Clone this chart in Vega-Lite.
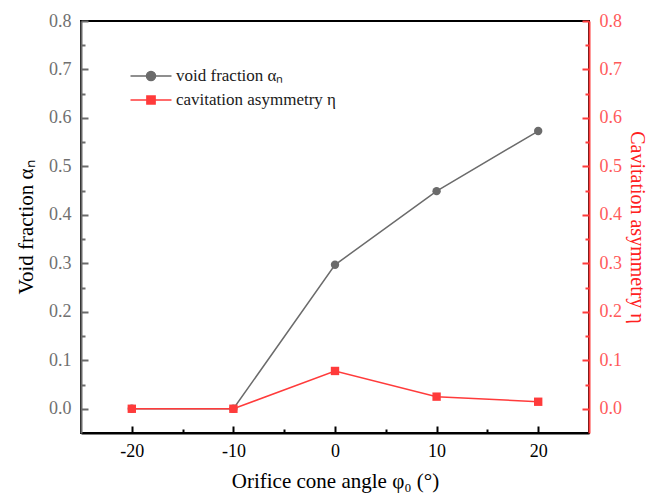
{
  "$schema": "https://vega.github.io/schema/vega-lite/v6.json",
  "width": 508,
  "height": 412,
  "autosize": {"type": "none"},
  "padding": {"left": 81, "top": 21, "right": 59, "bottom": 62},
  "background": "white",
  "config": {
    "font": "Liberation Serif",
    "view": {"stroke": "#000000", "strokeWidth": 2},
    "axis": {"grid": false, "labelFont": "Liberation Serif", "titleFont": "Liberation Serif", "titleFontWeight": "normal", "labelFontSize": 18, "titleFontSize": 21},
    "legend": {"labelFont": "Liberation Serif"}
  },
  "data": {
    "values": [
      {"angle": -20, "series": "alpha", "value": 0.0},
      {"angle": -10, "series": "alpha", "value": 0.0},
      {"angle": 0, "series": "alpha", "value": 0.297},
      {"angle": 10, "series": "alpha", "value": 0.449},
      {"angle": 20, "series": "alpha", "value": 0.573},
      {"angle": -20, "series": "eta", "value": 0.0},
      {"angle": -10, "series": "eta", "value": 0.0},
      {"angle": 0, "series": "eta", "value": 0.078},
      {"angle": 10, "series": "eta", "value": 0.025},
      {"angle": 20, "series": "eta", "value": 0.0145}
    ]
  },
  "encoding": {
    "x": {
      "field": "angle",
      "type": "quantitative",
      "scale": {"domain": [-25, 25], "nice": false, "zero": false},
      "axis": {
        "title": "Orifice cone angle φ₀ (°)",
        "titleColor": "#000000",
        "titlePadding": 10,
        "values": [-20, -15, -10, -5, 0, 5, 10, 15, 20],
        "labelExpr": "datum.value % 10 == 0 ? '' + datum.value : ''",
        "labelColor": "#000000",
        "labelPadding": 16,
        "domainColor": "#000000",
        "domainWidth": 2,
        "tickColor": "#000000",
        "tickWidth": 2,
        "tickSize": {"condition": {"test": "datum.value % 10 == 0", "value": -7}, "value": -4}
      }
    },
    "color": {
      "field": "series",
      "type": "nominal",
      "scale": {"domain": ["alpha", "eta"], "range": ["#6b6b6b", "#ff3b3b"]},
      "legend": {
        "title": null,
        "orient": "none",
        "legendX": 59,
        "legendY": 44,
        "padding": 0,
        "symbolSize": 420,
        "symbolStrokeWidth": 1.5,
        "labelFontSize": 17,
        "labelColor": "#1a1a1a",
        "labelOffset": 14,
        "rowPadding": 5,
        "labelExpr": "datum.value == 'alpha' ? 'void fraction αₙ' : 'cavitation asymmetry η'",
        "encode": {
          "symbols": {
            "update": {
              "shape": {"signal": "datum.value == 'alpha' ? 'M-2,0H2M-0.44,0A0.44,0.44 0 1,1 0.44,0A0.44,0.44 0 1,1 -0.44,0Z' : 'M-2,0H2M-0.4,-0.4H0.4V0.4H-0.4Z'"},
              "fill": {"signal": "datum.value == 'alpha' ? '#6b6b6b' : '#ff3b3b'"},
              "stroke": {"signal": "datum.value == 'alpha' ? '#6b6b6b' : '#ff3b3b'"},
              "strokeWidth": {"value": 1.5},
              "opacity": {"value": 1}
            }
          }
        }
      }
    }
  },
  "layer": [
    {
      "transform": [{"filter": "datum.series == 'alpha'"}],
      "encoding": {
        "y": {
          "field": "value",
          "type": "quantitative",
          "scale": {"domain": [-0.05, 0.8], "nice": false, "zero": false},
          "axis": {
            "orient": "left",
            "title": "Void fraction αₙ",
            "titleColor": "#000000",
            "titlePadding": 12,
            "values": [0, 0.05, 0.1, 0.15, 0.2, 0.25, 0.3, 0.35, 0.4, 0.45, 0.5, 0.55, 0.6, 0.65, 0.7, 0.75, 0.8],
            "labelExpr": "abs(datum.value * 10 - round(datum.value * 10)) < 0.001 ? format(datum.value, '.1f') : ''",
            "labelColor": "#707070",
            "labelPadding": 17,
            "domainColor": "#6b6b6b",
            "domainWidth": 2,
            "tickColor": "#6b6b6b",
            "tickWidth": 2,
            "tickSize": {"condition": {"test": "abs(datum.value * 10 - round(datum.value * 10)) < 0.001", "value": -7}, "value": -4}
          }
        }
      },
      "layer": [
        {"mark": {"type": "line", "strokeWidth": 1.5}},
        {"mark": {"type": "point", "shape": "circle", "filled": true, "size": 70, "opacity": 1}}
      ]
    },
    {
      "transform": [{"filter": "datum.series == 'eta'"}],
      "encoding": {
        "y": {
          "field": "value",
          "type": "quantitative",
          "scale": {"domain": [-0.05, 0.8], "nice": false, "zero": false},
          "axis": {
            "orient": "right",
            "title": "Cavitation asymmetry η",
            "titleColor": "#ff2020",
            "titleFontSize": 20,
            "titlePadding": 5,
            "values": [0, 0.05, 0.1, 0.15, 0.2, 0.25, 0.3, 0.35, 0.4, 0.45, 0.5, 0.55, 0.6, 0.65, 0.7, 0.75, 0.8],
            "labelExpr": "abs(datum.value * 10 - round(datum.value * 10)) < 0.001 ? format(datum.value, '.1f') : ''",
            "labelColor": "#ff5a5a",
            "labelPadding": 17,
            "domainColor": "#ff3b3b",
            "domainWidth": 2,
            "tickColor": "#ff3b3b",
            "tickWidth": 2,
            "tickSize": {"condition": {"test": "abs(datum.value * 10 - round(datum.value * 10)) < 0.001", "value": -7}, "value": -4}
          }
        }
      },
      "layer": [
        {"mark": {"type": "line", "strokeWidth": 1.5}},
        {"mark": {"type": "square", "filled": true, "size": 70, "opacity": 1}}
      ]
    }
  ],
  "resolve": {"scale": {"y": "independent"}}
}
